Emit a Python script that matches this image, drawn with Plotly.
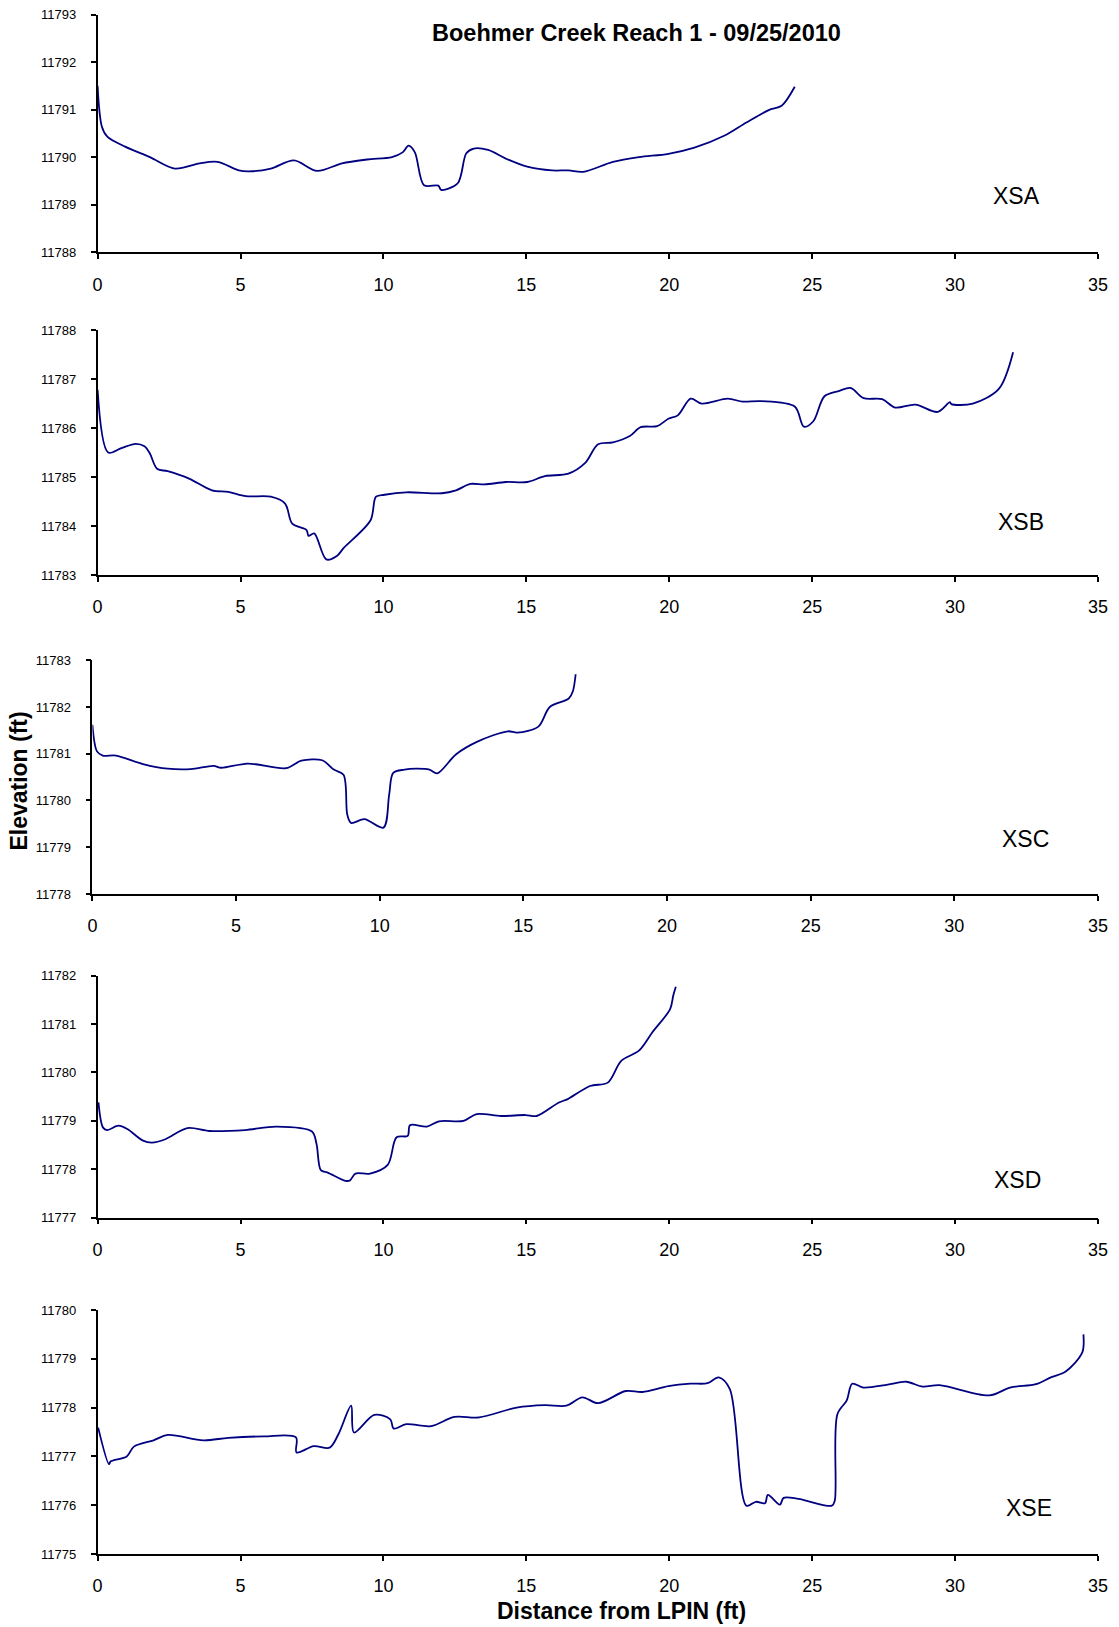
import plotly.graph_objects as go

# ---------------- data ----------------
xsa_dist = [0.0, 0.15, 0.34, 0.96, 1.83, 2.7, 3.57, 4.2, 4.94, 5.3, 6.06, 6.87, 7.68, 8.55,
            9.43, 10.3, 10.67, 10.88, 11.1, 11.42, 11.92, 12.02, 12.6, 12.9, 13.16, 13.66,
            14.28, 15.03, 15.9, 16.47, 16.99, 18.03, 18.94, 19.97, 20.88, 21.92, 22.7,
            23.48, 23.93, 24.39]
xsa_elev = [11791.5, 11790.64, 11790.43, 11790.22, 11790.0, 11789.76, 11789.87, 11789.9,
            11789.72, 11789.7, 11789.76, 11789.93, 11789.71, 11789.87, 11789.95, 11790.0,
            11790.1, 11790.24, 11790.1, 11789.41, 11789.4, 11789.31, 11789.45, 11790.08,
            11790.18, 11790.15, 11789.97, 11789.8, 11789.72, 11789.72, 11789.69, 11789.9,
            11790.0, 11790.07, 11790.2, 11790.45, 11790.73, 11790.99, 11791.08, 11791.48]

xsb_dist = [0.0, 0.37, 0.83, 1.33, 1.64, 1.83, 2.08, 2.45, 3.2, 4.0, 4.57, 5.19, 6.06, 6.56,
            6.81, 7.31, 7.38, 7.58, 8.0, 8.37, 8.62, 9.55, 9.74, 10.04, 10.8, 12.04, 12.54,
            13.04, 13.54, 14.28, 15.03, 15.65, 16.47, 17.06, 17.51, 18.03, 18.62, 19.0,
            19.58, 19.97, 20.3, 20.75, 21.14, 22.05, 22.57, 23.22, 24.39, 24.71, 25.04,
            25.43, 25.95, 26.34, 26.8, 27.45, 27.9, 28.61, 29.39, 29.82, 29.87, 30.62,
            31.53, 32.03]
xsb_elev = [11786.78, 11785.5, 11785.59, 11785.68, 11785.63, 11785.48, 11785.17, 11785.12,
            11784.97, 11784.73, 11784.7, 11784.61, 11784.6, 11784.46, 11784.05, 11783.92,
            11783.8, 11783.85, 11783.32, 11783.39, 11783.56, 11784.12, 11784.6, 11784.64,
            11784.69, 11784.67, 11784.73, 11784.86, 11784.85, 11784.9, 11784.9, 11785.02,
            11785.07, 11785.29, 11785.67, 11785.71, 11785.84, 11786.02, 11786.04, 11786.19,
            11786.26, 11786.6, 11786.5, 11786.6, 11786.54, 11786.55, 11786.44, 11786.03,
            11786.14, 11786.65, 11786.76, 11786.82, 11786.61, 11786.59, 11786.42, 11786.48,
            11786.33, 11786.53, 11786.49, 11786.5, 11786.8, 11787.55]

xsc_dist = [0.0, 0.16, 0.36, 0.82, 1.76, 2.62, 3.42, 4.22, 4.48, 5.41, 6.74, 7.27, 8.0, 8.4,
            8.74, 8.87, 9.0, 9.47, 10.13, 10.33, 10.47, 10.86, 11.27, 11.73, 12.0, 12.66,
            13.4, 14.46, 14.79, 15.52, 15.92, 16.58, 16.72, 16.82]
xsc_elev = [11781.62, 11781.05, 11780.96, 11780.96, 11780.78, 11780.68, 11780.67, 11780.74,
            11780.7, 11780.79, 11780.69, 11780.85, 11780.86, 11780.66, 11780.55, 11779.7,
            11779.52, 11779.6, 11779.42, 11780.13, 11780.59, 11780.66, 11780.68, 11780.66,
            11780.58, 11780.99, 11781.26, 11781.48, 11781.45, 11781.58, 11782.0, 11782.18,
            11782.33, 11782.7]

xsd_dist = [0.03, 0.19, 0.34, 0.73, 1.04, 1.59, 1.9, 2.37, 3.14, 3.92, 5.16, 6.26, 7.5,
            7.66, 7.81, 8.05, 8.67, 8.83, 9.02, 9.53, 10.15, 10.46, 10.85, 10.93, 11.52,
            11.94, 12.8, 13.26, 14.12, 14.97, 15.36, 16.14, 16.45, 17.23, 17.85, 18.32,
            18.94, 19.41, 20.03, 20.14, 20.23]
xsd_elev = [11779.38, 11778.86, 11778.81, 11778.9, 11778.83, 11778.59, 11778.55, 11778.62,
            11778.85, 11778.79, 11778.81, 11778.88, 11778.78, 11778.52, 11777.98, 11777.93,
            11777.76, 11777.77, 11777.91, 11777.91, 11778.09, 11778.66, 11778.69, 11778.91,
            11778.88, 11778.99, 11779.0, 11779.14, 11779.1, 11779.12, 11779.1, 11779.38,
            11779.45, 11779.72, 11779.79, 11780.24, 11780.45, 11780.83, 11781.31, 11781.59,
            11781.77]

xse_dist = [0.02, 0.4, 0.46, 1.02, 1.27, 1.96, 2.45, 3.7, 4.57, 5.82, 6.94, 6.96, 7.56,
            8.12, 8.43, 8.87, 8.97, 9.68, 10.24, 10.36, 10.8, 11.67, 12.48, 13.35, 14.66,
            15.65, 16.4, 16.96, 17.51, 18.48, 19.06, 19.97, 20.75, 21.34, 21.73, 22.12,
            22.7, 23.03, 23.35, 23.45, 23.87, 24.0, 24.52, 25.69, 25.79, 25.88, 26.21,
            26.4, 26.79, 27.64, 28.29, 28.87, 29.45, 31.2, 31.92, 32.83, 33.35, 33.87,
            34.45, 34.49]
xse_elev = [11777.59, 11776.84, 11776.9, 11777.0, 11777.2, 11777.33, 11777.44, 11777.33,
            11777.38, 11777.41, 11777.39, 11777.08, 11777.21, 11777.18, 11777.46, 11778.04,
            11777.49, 11777.85, 11777.76, 11777.57, 11777.66, 11777.62, 11777.81, 11777.8,
            11778.0, 11778.05, 11778.04, 11778.21, 11778.09, 11778.34, 11778.32, 11778.44,
            11778.49, 11778.5, 11778.62, 11778.38, 11775.99, 11776.07, 11776.04, 11776.21,
            11776.01, 11776.15, 11776.13, 11775.99, 11776.09, 11777.86, 11778.15, 11778.49,
            11778.41, 11778.47, 11778.53, 11778.43, 11778.46, 11778.25, 11778.41, 11778.48,
            11778.62, 11778.74, 11779.13, 11779.5]

section_names = ["XSA", "XSB", "XSC", "XSD", "XSE"]
section_dist = [xsa_dist, xsb_dist, xsc_dist, xsd_dist, xse_dist]
section_elev = [xsa_elev, xsb_elev, xsc_elev, xsd_elev, xse_elev]
y_ranges = [(11788, 11793), (11783, 11788), (11778, 11783), (11777, 11782), (11775, 11780)]
x_range = (0, 35)

title_text = "Boehmer Creek Reach 1 - 09/25/2010"
x_title = "Distance from LPIN (ft)"
y_title = "Elevation (ft)"

# ---------------- layout geometry ----------------
W, H = 1119, 1627
FONT = "Liberation Sans, Arial, sans-serif"
LINE_COLOR = "#000080"

# plot-area pixel boxes (left, top, right, bottom)
boxes = [(97.6, 14.5, 1098, 252.2),
         (97.6, 330.1, 1098, 575.1),
         (92.4, 660.2, 1098, 894.0),
         (97.6, 975.7, 1098, 1217.6),
         (97.6, 1310.0, 1098, 1554.0)]
label_pos = [(0.919, 0.236), (0.923, 0.216), (0.928, 0.236), (0.920, 0.156), (0.931, 0.188)]

fig = go.Figure()
layout = dict(width=W, height=H, autosize=False,
              margin=dict(l=0, r=0, t=0, b=0, pad=0, autoexpand=False),
              paper_bgcolor="white", plot_bgcolor="white", showlegend=False,
              font=dict(family=FONT, color="black"))
annotations = []

for i, name in enumerate(section_names):
    k = "" if i == 0 else str(i + 1)
    left, top, right, bottom = boxes[i]
    fig.add_trace(go.Scatter(x=section_dist[i], y=section_elev[i], mode="lines",
                             line=dict(color=LINE_COLOR, width=1.8, shape="spline", smoothing=0.9),
                             xaxis="x" + k, yaxis="y" + k, name=name, hoverinfo="x+y"))
    layout["xaxis" + k] = dict(domain=[left / W, right / W], anchor="y" + k,
                               range=list(x_range), dtick=5, tick0=0, automargin=False,
                               showline=True, linecolor="black", linewidth=1.5,
                               ticks="outside", ticklen=5, tickwidth=1.5, tickcolor="black",
                               tickfont=dict(size=18, family=FONT, color="black"),
                               ticklabelstandoff=10,
                               showgrid=False, zeroline=False)
    layout["yaxis" + k] = dict(domain=[1 - bottom / H, 1 - top / H], anchor="x" + k,
                               range=list(y_ranges[i]), dtick=1, tickformat="d",
                               automargin=False,
                               showline=True, linecolor="black", linewidth=1.5,
                               ticks="outside", ticklen=5, tickwidth=1.5, tickcolor="black",
                               tickfont=dict(size=13, family=FONT, color="black"),
                               ticklabelstandoff=12,
                               showgrid=False, zeroline=False)
    annotations.append(dict(text=name, xref="x%s domain" % k, yref="y%s domain" % k,
                            x=label_pos[i][0], y=label_pos[i][1], showarrow=False,
                            xanchor="center", yanchor="middle",
                            font=dict(size=23, family=FONT, color="black")))

annotations.append(dict(text="<b>%s</b>" % title_text, xref="paper", yref="paper",
                        x=636 / W, y=1 - 33 / H, showarrow=False,
                        xanchor="center", yanchor="middle",
                        font=dict(size=23.5, family=FONT, color="black")))
annotations.append(dict(text="<b>%s</b>" % x_title, xref="paper", yref="paper",
                        x=621 / W, y=1 - 1611 / H, showarrow=False,
                        xanchor="center", yanchor="middle",
                        font=dict(size=23, family=FONT, color="black")))
annotations.append(dict(text="<b>%s</b>" % y_title, xref="paper", yref="paper",
                        x=18.6 / W, y=1 - 781 / H, showarrow=False, textangle=-90,
                        xanchor="center", yanchor="middle",
                        font=dict(size=23, family=FONT, color="black")))

layout["annotations"] = annotations
fig.update_layout(**layout)
fig.write_html("out.html",
               config={"displayModeBar": False},
               post_script="document.body.style.margin='0px';"
                           "document.body.style.padding='0px';"
                           "document.body.style.overflow='hidden';")
